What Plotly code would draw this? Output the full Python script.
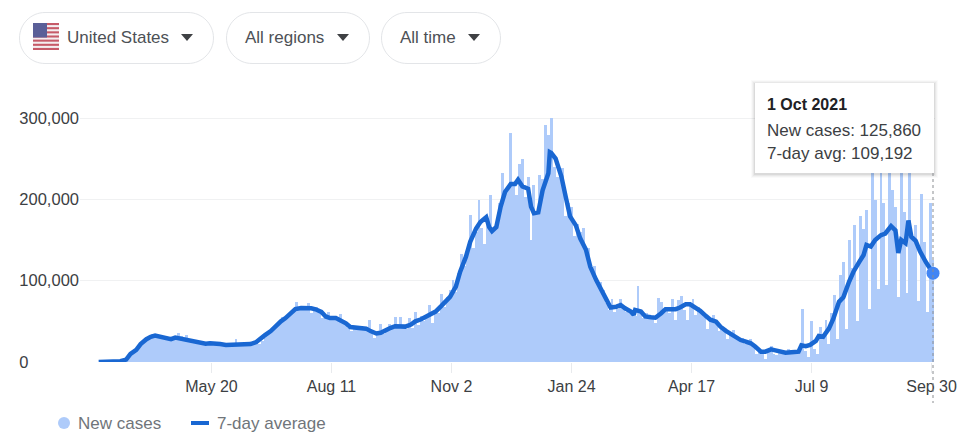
import pandas as pd
import plotly.graph_objects as go

# ---- data (thousands of cases) ----
new_cases_k = [
    0, 0, 0, 0, 0, .5, 1, 1.5, 2, 3,
    6, 10, 13, 17, 21, 25, 28, 32, 35, 33,
    33, 32, 30, 29, 28, 27, 29, 36, 32, 28,
    33, 26, 27, 25, 24, 23, 21, 24, 23, 23,
    22, 24, 21, 23, 20, 21, 21, 28, 22, 21,
    22, 23, 22, 21, 23, 22, 26, 29, 33, 38,
    42, 46, 47, 55, 52, 56, 62, 62, 74, 66,
    66, 65, 73, 60, 66, 68, 62, 54, 58, 61,
    52, 54, 50, 59, 48, 46, 42, 38, 43, 41,
    44, 42, 40, 52, 37, 30, 36, 47, 34, 40,
    47, 42, 55, 44, 55, 42, 40, 54, 42, 62,
    46, 57, 50, 55, 70, 48, 62, 60, 84, 68,
    80, 88, 101, 86, 110, 133, 118, 135, 181, 140,
    160, 199, 165, 145, 175, 205, 165, 172, 195, 232,
    205, 215, 281, 220, 205, 244, 250, 203, 228, 150,
    218, 185, 230, 225, 291, 279, 300, 240, 228, 235,
    238, 180, 195, 190, 155, 170, 160, 165, 140, 140,
    115, 118, 97, 98, 88, 72, 64, 78, 62, 65,
    78, 66, 62, 60, 58, 56, 94, 60, 54, 60,
    55, 54, 48, 79, 74, 62, 65, 60, 77, 52,
    76, 81, 64, 52, 70, 78, 58, 68, 60, 55,
    40, 52, 58, 50, 38, 44, 42, 28, 34, 39,
    30, 27, 30, 22, 26, 28, 20, 10, 16, 10,
    4, 14, 20, 10, 9, 14, 13, 11, 16, 12,
    12, 11, 13, 65, 14, 6, 50, 16, 10, 43,
    30, 52, 22, 60, 82, 28, 107, 123, 40, 150,
    115, 168, 50, 179, 164, 187, 65, 260, 199, 90,
    260, 195, 95, 270, 212, 191, 80, 250, 185, 85,
    255, 150, 168, 75, 207, 148, 62, 195, 125.86,
]
avg_days = [
    0, 5, 12, 15, 19, 22, 26, 29, 33, 36, 39, 43, 46, 50, 53, 57, 60, 64, 67, 71,
    74, 77, 81, 84, 88, 91, 95, 98, 102, 105, 109, 112, 115, 119, 122, 126, 129, 133, 136, 140,
    143, 147, 150, 154, 157, 160, 164, 167, 171, 174, 178, 181, 185, 188, 192, 195, 198, 202, 205, 209,
    212, 216, 219, 223, 226, 230, 233, 237, 240, 243, 247, 250, 254, 257, 261, 264, 268, 270, 272, 275,
    278, 281, 285, 288, 290, 293, 297, 299, 301, 304, 307, 311, 312, 313, 316, 320, 323, 326, 330, 333,
    337, 340, 344, 347, 351, 354, 358, 361, 364, 368, 370, 371, 375, 378, 382, 385, 389, 392, 396, 399,
    402, 406, 409, 413, 416, 420, 423, 427, 430, 434, 437, 441, 444, 447, 451, 454, 458, 461, 465, 468,
    472, 475, 479, 482, 484, 486, 489, 492, 496, 498, 501, 505, 508, 512, 515, 519, 522, 526, 529, 531,
    534, 537, 541, 544, 548, 551, 553, 555, 558, 560, 562, 565, 568, 572, 575, 577,
]
avg_k = [
    0, 0, .3, 1, 3, 10, 15, 22, 28, 31, 32.4, 31, 29.5, 28, 30, 28.7, 27, 26.6, 25.4, 23.8,
    22.5, 23, 23, 22, 21, 21.3, 22, 21.7, 21.7, 22, 24.6, 28, 33, 38, 44, 50, 53.7, 60, 65, 66.4,
    66.4, 66, 64.8, 61.5, 56, 54, 54, 51.6, 47.5, 43, 42.6, 42, 41, 38, 35, 36, 39, 42, 44, 43.5,
    43.5, 46, 50, 52.5, 55, 58, 62, 69, 74, 80, 92.6, 111, 129.5, 148, 164, 172, 178, 166, 161, 166,
    191, 209, 219, 219, 224, 216, 213, 191, 183, 184, 211, 232, 258, 257, 250, 228, 203, 179, 168, 152,
    138, 117, 101, 90.6, 79.5, 67, 68, 70, 66, 62, 58, 64, 62, 56, 55, 54.5, 60, 65, 65, 65,
    67, 71, 71, 67, 63, 56.5, 52, 49.6, 43.4, 38, 34.4, 31, 27, 25.4, 23, 19, 12.7, 12.7, 15.6, 14.3,
    12.7, 11.5, 12, 12.3, 12.7, 20.5, 19.5, 21, 26, 32, 31, 41, 53, 74, 79.5, 99, 111, 123, 131.6, 144,
    142, 150, 156, 158, 167, 162, 134, 150, 146, 174, 154, 149, 136, 123, 115, 109.192,
]
tick_dates = ["2020-05-20", "2020-08-11", "2020-11-02", "2021-01-24", "2021-04-17", "2021-07-09", "2021-09-30"]
tick_labels = ["May 20", "Aug 11", "Nov 2", "Jan 24", "Apr 17", "Jul 9", "Sep 30"]
y_ticks = [0, 100000, 200000, 300000]
y_tick_labels = ["0\u2007\u2007\u2007\u2007\u2007\u2008", "100,000", "200,000", "300,000"]

bar_dates = pd.date_range("2020-03-04", periods=len(new_cases_k), freq="2D")
avg_dates = pd.Timestamp("2020-03-03") + pd.to_timedelta(avg_days, unit="D")

W, H = 962, 443
L, R, T, B = 80, 27, 85, 81
PW, PH = W - L - R, H - T - B


def px(x):
    return (x - L) / PW


def py(y):
    return (H - B - y) / PH


def rect(x0, y0, x1, y1, fill, line="rgba(0,0,0,0)", width=0, opacity=1):
    return dict(type="rect", xref="paper", yref="paper", x0=px(x0), x1=px(x1), y0=py(y0), y1=py(y1),
                fillcolor=fill, opacity=opacity, line=dict(color=line, width=width), layer="above")


def pill(x0, y0, x1, y1):
    r = (y1 - y0) / 2
    k = r * 0.448
    pts = lambda a, b: f"{px(a):.5f},{py(b):.5f}"
    d = (f"M {pts(x0 + r, y0)} L {pts(x1 - r, y0)} "
         f"C {pts(x1 - k, y0)} {pts(x1, y0 + k)} {pts(x1, y0 + r)} "
         f"C {pts(x1, y1 - k)} {pts(x1 - k, y1)} {pts(x1 - r, y1)} "
         f"L {pts(x0 + r, y1)} "
         f"C {pts(x0 + k, y1)} {pts(x0, y1 - k)} {pts(x0, y0 + r)} "
         f"C {pts(x0, y0 + k)} {pts(x0 + k, y0)} {pts(x0 + r, y0)} Z")
    return dict(type="path", xref="paper", yref="paper", path=d, fillcolor="white",
                line=dict(color="#e3e5e8", width=1), layer="above")


def triangle(x0, x1, y0, y1):
    d = f"M {px(x0):.5f},{py(y0):.5f} L {px(x1):.5f},{py(y0):.5f} L {px((x0 + x1) / 2):.5f},{py(y1):.5f} Z"
    return dict(type="path", xref="paper", yref="paper", path=d, fillcolor="#3f4144",
                line=dict(width=0), layer="above")


def label(x, y, text, color, size=17, bold=False):
    return dict(xref="paper", yref="paper", x=px(x), y=py(y), xanchor="left", yanchor="middle",
                text=f"<b>{text}</b>" if bold else text, showarrow=False, xshift=-2,
                font=dict(family="Liberation Sans, Arial, sans-serif", size=size, color=color))


shapes = [
    pill(19.5, 12.5, 213.5, 63.5), pill(226.5, 12.5, 369.5, 63.5), pill(381.5, 12.5, 500.5, 63.5),
    triangle(181, 193, 34, 41), triangle(337, 349, 34, 41), triangle(468, 480, 34, 41),
]
# flag
shapes.append(rect(33, 23, 59, 50, "#f4eef0"))
for i in range(7):
    top = 23 + i * 27 / 6.5
    shapes.append(rect(33, top, 59, top + 27 / 13, "#c65a68"))
shapes.append(rect(33, 23, 47, 37.5, "#5a5f98"))
# tooltip with soft shadow
for off, op in [(4, .02), (3, .03), (2, .04), (1, .06)]:
    shapes.append(rect(755 - off, 83 - off + 1, 934 + off, 173 + off + 1, "#000000", opacity=op))
shapes.append(rect(755, 83, 934, 173, "white"))
# dotted hover line
shapes.append(dict(type="line", xref="paper", yref="paper", x0=px(933), x1=px(933), y0=py(173), y1=py(403),
                   line=dict(color="#8a8d91", width=1, dash="dot"), layer="above"))
# legend keys
shapes.append(dict(type="circle", xref="paper", yref="paper", x0=px(58), x1=px(70), y0=py(417), y1=py(429),
                   fillcolor="#aecbfa", line=dict(width=0), layer="above"))
shapes.append(dict(type="line", xref="paper", yref="paper", x0=px(191), x1=px(209), y0=py(423), y1=py(423),
                   line=dict(color="#1967d2", width=4), layer="above"))

annotations = [
    label(67, 37.5, "United States", "#4d5156"),
    label(245, 37.5, "All regions", "#4d5156"),
    label(400, 37.5, "All time", "#4d5156"),
    label(767, 104, "1 Oct 2021", "#202124", bold=True, size=16),
    label(767, 130, "New cases: 125,860", "#3c4043"),
    label(767, 153, "7-day avg: 109,192", "#3c4043"),
    label(78, 423.5, "New cases", "#70757a"),
    label(217, 423.5, "7-day average", "#70757a"),
]

fig = go.Figure()
fig.add_trace(go.Bar(x=bar_dates, y=[v * 1000 for v in new_cases_k], name="New cases",
                     marker=dict(color="#aecbfa", line=dict(width=0)), width=2 * 86400000))
fig.add_trace(go.Scatter(x=avg_dates, y=[v * 1000 for v in avg_k], name="7-day average", mode="lines",
                         line=dict(color="#1967d2", width=4.5)))
fig.add_trace(go.Scatter(x=[avg_dates[-1]], y=[avg_k[-1] * 1000], mode="markers",
                         marker=dict(color="#4285f4", size=13), cliponaxis=False, showlegend=False))

fig.update_layout(
    width=W, height=H, margin=dict(l=L, r=R, t=T, b=B, autoexpand=False), showlegend=False,
    paper_bgcolor="white", plot_bgcolor="white", bargap=0,
    font=dict(family="Liberation Sans, Arial, sans-serif", size=16, color="#3c4043"),
    shapes=shapes, annotations=annotations,
    xaxis=dict(type="date", range=["2020-02-19 02:00", "2021-10-02 09:00"], tickmode="array",
               tickvals=tick_dates, ticktext=tick_labels, ticks="outside", ticklen=10, tickwidth=1,
               tickcolor="#e8eaed", showgrid=False, zeroline=False, showline=False,
               tickangle=0, tickfont=dict(size=16, color="#3c4043")),
    yaxis=dict(range=[0, 340574], tickmode="array", tickvals=y_ticks, ticktext=y_tick_labels,
               gridcolor="#f0f1f2", gridwidth=1, zeroline=False, showline=False,
               ticks="", tickfont=dict(size=16.5, color="#3c4043")),
)
fig.write_html("out.html", config=dict(displayModeBar=False),
               post_script="document.body.style.margin='0';document.body.style.overflow='hidden';")
